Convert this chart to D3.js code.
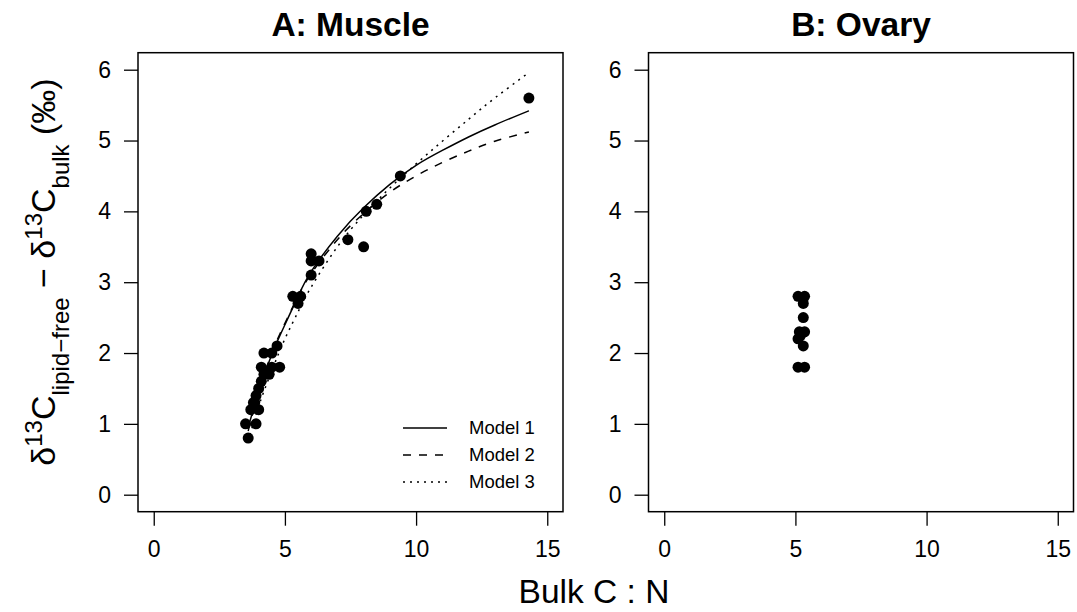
<!DOCTYPE html>
<html>
<head>
<meta charset="utf-8">
<script src="https://cdn.jsdelivr.net/npm/d3@7"></script>
<style>
  body { margin: 0; background: #fff; }
  text { font-family: "Liberation Sans", Arial, Helvetica, sans-serif; fill: #000; }
</style>
</head>
<body>
<div id="chart"></div>
<script>
// muscle samples (panel A)
const muscleCN = [3.6, 3.5, 3.9, 3.7, 4.0, 3.8, 3.9, 3.85, 4.0, 4.1, 4.1, 4.2, 4.4, 4.5, 4.2, 4.5, 4.7, 4.8, 5.3, 5.5, 5.6, 6.0, 6.0, 6.0, 6.3, 7.4, 8.0, 8.1, 8.5, 9.4, 14.3];
const muscleDelta = [0.8, 1.0, 1.0, 1.2, 1.2, 1.3, 1.4, 1.3, 1.5, 1.6, 1.8, 1.7, 1.7, 1.8, 2.0, 2.0, 2.1, 1.8, 2.8, 2.7, 2.8, 3.1, 3.3, 3.4, 3.3, 3.6, 3.5, 4.0, 4.1, 4.5, 5.6];

// ovary samples (panel B)
const ovaryCN = [5.1, 5.35, 5.3, 5.3, 5.15, 5.35, 5.1, 5.3, 5.1, 5.35, 5.2];
const ovaryDelta = [2.8, 2.8, 2.7, 2.5, 2.3, 2.3, 2.2, 2.1, 1.8, 1.8, 2.25];

// fitted model curves
const modelCN = [3.6, 4, 4.5, 5, 5.5, 6, 7, 8, 9, 10, 11, 12, 13, 14.3];
const model1 = [0.95, 1.45, 1.98, 2.4, 2.8, 3.15, 3.65, 4.05, 4.38, 4.65, 4.86, 5.05, 5.22, 5.42];
const model2 = [0.9, 1.45, 2.0, 2.42, 2.8, 3.12, 3.6, 3.97, 4.27, 4.5, 4.69, 4.85, 4.99, 5.12];
const model3 = [0.75, 1.25, 1.75, 2.2, 2.58, 2.93, 3.5, 3.95, 4.33, 4.67, 4.99, 5.3, 5.6, 5.96];
const modelNames = ["Model 1", "Model 2", "Model 3"];
const modelDash = [null, "8,8", "2,5"];

const xTicks = [0, 5, 10, 15];
const yTicks = [0, 1, 2, 3, 4, 5, 6];

const width = 1077, height = 612;
const svg = d3.select("#chart").append("svg")
    .attr("width", width)
    .attr("height", height);

const plotTop = 52.7, plotBottom = 511.7;
const panels = [
  { left: 138, right: 563, title: "A: Muscle", xs: muscleCN, ys: muscleDelta, models: true },
  { left: 648.5, right: 1073.5, title: "B: Ovary", xs: ovaryCN, ys: ovaryDelta, models: false }
];

const y = d3.scaleLinear().domain([-0.24, 6.24]).range([plotBottom, plotTop]);

panels.forEach(p => {
  const x = d3.scaleLinear().domain([-0.6, 15.6]).range([p.left, p.right]);
  const g = svg.append("g");

  // x axis (R style: no domain line, box drawn separately)
  const xAxis = g.append("g")
      .attr("transform", `translate(0,${plotBottom})`)
      .call(d3.axisBottom(x).tickValues(xTicks).tickSize(14).tickPadding(15).tickSizeOuter(0));
  xAxis.select(".domain").remove();
  xAxis.selectAll("line").attr("stroke", "#000").attr("stroke-width", 1.3);
  xAxis.selectAll("text").style("font-size", "23px").attr("fill", "#000");

  const yAxis = g.append("g")
      .attr("transform", `translate(${p.left},0)`)
      .call(d3.axisLeft(y).tickValues(yTicks).tickFormat(d3.format("d"))
        .tickSize(14).tickPadding(13).tickSizeOuter(0));
  yAxis.select(".domain").remove();
  yAxis.selectAll("line").attr("stroke", "#000").attr("stroke-width", 1.3);
  yAxis.selectAll("text").style("font-size", "23px").attr("fill", "#000");

  // plot box
  g.append("rect")
      .attr("x", p.left).attr("y", plotTop)
      .attr("width", p.right - p.left).attr("height", plotBottom - plotTop)
      .attr("fill", "none").attr("stroke", "#000").attr("stroke-width", 1.5);

  // title
  g.append("text")
      .attr("x", (p.left + p.right) / 2)
      .attr("y", 36)
      .attr("text-anchor", "middle")
      .style("font-size", "33.5px")
      .style("font-weight", "bold")
      .text(p.title);

  if (p.models) {
    const line = d3.line()
        .x(d => x(d[0]))
        .y(d => y(d[1]))
        .curve(d3.curveNatural);
    [model1, model2, model3].forEach((m, i) => {
      g.append("path")
          .datum(modelCN.map((c, j) => [c, m[j]]))
          .attr("d", line)
          .attr("fill", "none")
          .attr("stroke", "#000")
          .attr("stroke-width", 1.5)
          .attr("stroke-dasharray", modelDash[i]);
    });

    // legend
    const leg = g.append("g");
    modelNames.forEach((name, i) => {
      const ly = 428 + i * 27;
      leg.append("line")
          .attr("x1", 403).attr("x2", 447)
          .attr("y1", ly).attr("y2", ly)
          .attr("stroke", "#000").attr("stroke-width", 1.5)
          .attr("stroke-dasharray", modelDash[i]);
      leg.append("text")
          .attr("x", 469).attr("y", ly)
          .attr("dy", "0.35em")
          .style("font-size", "18.5px")
          .text(name);
    });
  }

  g.selectAll("circle.pt")
    .data(p.xs.map((c, i) => [c, p.ys[i]]))
    .enter().append("circle")
      .attr("class", "pt")
      .attr("cx", d => x(d[0]))
      .attr("cy", d => y(d[1]))
      .attr("r", 5.5)
      .attr("fill", "#000");
});

// y axis label with super/subscripts
const yl = svg.append("text")
    .attr("transform", `translate(55,272) rotate(-90)`)
    .attr("text-anchor", "middle")
    .style("font-size", "34px");
yl.append("tspan").text("δ");
yl.append("tspan").attr("baseline-shift", "super").style("font-size", "24px").text("13");
yl.append("tspan").text("C");
yl.append("tspan").attr("baseline-shift", "sub").style("font-size", "24px").text("lipid\u2212free");
yl.append("tspan").text(" \u2212 δ");
yl.append("tspan").attr("baseline-shift", "super").style("font-size", "24px").text("13");
yl.append("tspan").text("C");
yl.append("tspan").attr("baseline-shift", "sub").style("font-size", "24px").text("bulk");
yl.append("tspan").text(" (‰)");

svg.append("text")
    .attr("x", 594)
    .attr("y", 603)
    .attr("text-anchor", "middle")
    .style("font-size", "33.5px")
    .text("Bulk C : N");
</script>
</body>
</html>
